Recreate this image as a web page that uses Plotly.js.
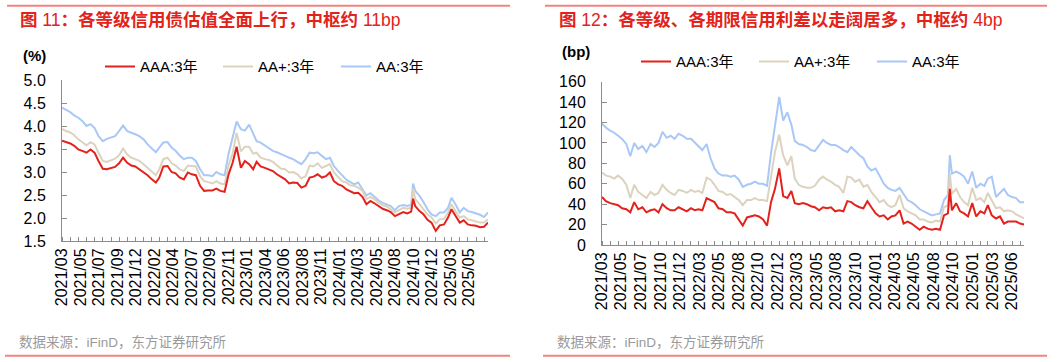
<!DOCTYPE html>
<html>
<head>
<meta charset="utf-8">
<script src="https://cdn.plot.ly/plotly-3.0.1.min.js"></script>
<style>
html,body{margin:0;padding:0;background:#fff;}
#chart{width:1061px;height:362px;}
</style>
</head>
<body>
<div id="chart"></div>
<script>
// ---- data (semi-monthly readings, plus the Oct-2024 spike) ----
const dates = [
 "2021-03-01","2021-03-16","2021-04-01","2021-04-16","2021-05-01","2021-05-16","2021-06-01","2021-06-16","2021-07-01","2021-07-16",
 "2021-08-01","2021-08-16","2021-09-01","2021-09-16","2021-10-01","2021-10-16","2021-11-01","2021-11-16","2021-12-01","2021-12-16",
 "2022-01-01","2022-01-16","2022-02-01","2022-02-16","2022-03-01","2022-03-16","2022-04-01","2022-04-16","2022-05-01","2022-05-16",
 "2022-06-01","2022-06-16","2022-07-01","2022-07-16","2022-08-01","2022-08-16","2022-09-01","2022-09-16","2022-10-01","2022-10-16",
 "2022-11-01","2022-11-16","2022-12-01","2022-12-16","2023-01-01","2023-01-16","2023-02-01","2023-02-16","2023-03-01","2023-03-16",
 "2023-04-01","2023-04-16","2023-05-01","2023-05-16","2023-06-01","2023-06-16","2023-07-01","2023-07-16","2023-08-01","2023-08-16",
 "2023-09-01","2023-09-16","2023-10-01","2023-10-16","2023-11-01","2023-11-16","2023-12-01","2023-12-16","2024-01-01","2024-01-16",
 "2024-02-01","2024-02-16","2024-03-01","2024-03-16","2024-04-01","2024-04-16","2024-05-01","2024-05-16","2024-06-01","2024-06-16",
 "2024-07-01","2024-07-16","2024-08-01","2024-08-16","2024-09-01","2024-09-16","2024-10-01","2024-10-08","2024-10-16","2024-11-01","2024-11-16",
 "2024-12-01","2024-12-16","2025-01-01","2025-01-16","2025-02-01","2025-02-16","2025-03-01","2025-03-16","2025-04-01","2025-04-16",
 "2025-05-01","2025-05-16","2025-06-01","2025-06-16","2025-07-01","2025-07-16"
];

// Left chart: yields (%)
const leftAAA = [
 3.68,3.65,3.62,3.57,3.49,3.46,3.42,3.49,3.42,3.24,
 3.07,3.06,3.09,3.11,3.19,3.31,3.20,3.14,3.12,3.06,
 2.99,2.93,2.84,2.77,2.88,3.12,3.13,3.00,2.97,2.88,
 2.84,2.99,2.95,2.93,2.70,2.59,2.60,2.60,2.64,2.59,
 2.57,2.95,3.20,3.55,3.09,3.24,3.17,3.06,3.22,3.12,
 3.09,3.06,3.02,2.95,2.90,2.84,2.75,2.77,2.76,2.66,
 2.70,2.88,2.90,2.95,2.88,2.91,2.99,2.80,2.73,2.70,
 2.62,2.57,2.54,2.55,2.46,2.30,2.37,2.32,2.26,2.20,
 2.17,2.13,2.04,2.08,2.13,2.10,2.14,2.42,2.26,2.15,2.08,
 1.96,1.90,1.72,1.84,1.86,2.01,2.19,2.04,1.90,1.95,
 1.86,1.84,1.83,1.80,1.81,1.90
];
const leftAAplus = [
 3.94,3.89,3.86,3.80,3.71,3.64,3.58,3.65,3.60,3.42,
 3.24,3.22,3.25,3.29,3.36,3.51,3.38,3.31,3.28,3.24,
 3.17,3.09,3.00,2.93,3.06,3.28,3.31,3.19,3.14,3.06,
 3.02,3.14,3.13,3.12,2.91,2.80,2.78,2.75,2.80,2.75,
 2.73,3.15,3.40,3.85,3.45,3.55,3.55,3.40,3.42,3.31,
 3.28,3.26,3.22,3.14,3.07,3.06,2.99,3.00,2.95,2.86,
 2.91,3.14,3.12,3.19,3.09,3.13,3.17,2.99,2.90,2.80,
 2.77,2.71,2.70,2.66,2.59,2.41,2.46,2.41,2.33,2.28,
 2.25,2.19,2.12,2.17,2.22,2.20,2.22,2.64,2.41,2.30,2.20,
 2.08,2.01,1.88,1.97,1.98,2.12,2.30,2.15,2.01,2.04,
 1.97,1.95,1.93,1.90,1.90,1.97
];
const leftAA = [
 4.40,4.36,4.30,4.23,4.18,4.11,4.00,4.04,3.96,3.78,
 3.67,3.72,3.75,3.78,3.89,4.01,3.89,3.86,3.82,3.78,
 3.71,3.60,3.51,3.43,3.53,3.64,3.65,3.53,3.46,3.36,
 3.28,3.31,3.31,3.24,3.06,2.93,2.93,2.91,3.00,2.95,
 2.93,3.40,3.75,4.10,3.93,3.90,4.03,3.82,3.67,3.64,
 3.58,3.53,3.46,3.43,3.38,3.35,3.31,3.28,3.22,3.17,
 3.28,3.42,3.41,3.43,3.35,3.28,3.31,3.13,3.02,2.93,
 2.83,2.78,2.73,2.77,2.62,2.49,2.54,2.46,2.38,2.33,
 2.30,2.26,2.17,2.26,2.28,2.26,2.29,2.75,2.59,2.48,2.35,
 2.19,2.08,2.04,2.12,2.12,2.22,2.44,2.30,2.12,2.22,
 2.15,2.13,2.10,2.07,2.02,2.12
];

// Right chart: credit spreads (bp)
const rightAAA = [
 47,43,41,40,39,36,35,32,42,35,
 37,32,34,35,32,40,36,34,34,37,
 35,33,36,34,35,34,46,44,42,36,
 35,32,32,31,25,19,27,28,29,28,
 25,19,42,55,75,48,46,53,41,40,
 41,40,38,37,34,37,36,37,33,34,
 33,43,42,39,37,36,43,37,31,28,
 29,25,28,29,34,21,23,21,18,15,
 18,16,15,16,15,29,31,55,34,41,33,
 31,28,41,28,33,31,39,29,26,28,
 21,23,23,23,21,20
];
const rightAAplus = [
 71,68,67,65,68,65,59,46,59,52,
 49,46,52,49,51,59,54,51,49,54,
 53,51,54,52,53,51,66,64,59,53,
 52,49,50,47,44,39,44,44,46,44,
 44,43,65,91,108,88,78,87,65,59,
 57,56,56,58,64,67,64,62,59,57,
 51,67,66,62,64,57,59,52,47,42,
 44,39,37,39,49,36,33,31,29,25,
 25,23,22,24,23,37,39,70,50,55,47,
 42,39,56,44,46,42,51,44,36,37,
 33,34,33,30,28,26
];
const rightAA = [
 119,115,112,110,107,104,99,87,100,94,
 97,91,99,96,100,111,105,107,104,109,
 107,104,104,100,97,93,99,85,75,70,
 68,68,67,68,64,57,59,60,62,60,
 60,58,90,117,145,122,130,118,102,99,
 98,96,93,92,98,103,100,98,98,96,
 93,91,96,92,88,85,77,73,75,68,
 60,56,54,53,56,50,44,42,39,35,
 33,31,29,30,31,44,49,88,70,72,70,
 67,60,72,56,60,58,65,67,47,51,
 55,49,47,46,42,42
];

const seriesNames = ["AAA:3年", "AA+:3年", "AA:3年"];
const leftTickLabels = ["2021/03","2021/05","2021/07","2021/09","2021/12","2022/02","2022/04","2022/07","2022/09","2022/11","2023/01","2023/04","2023/06","2023/08","2023/11","2024/01","2024/03","2024/05","2024/08","2024/10","2024/12","2025/03","2025/05"];
const rightTickLabels = ["2021/03","2021/05","2021/07","2021/10","2021/12","2022/03","2022/05","2022/08","2022/10","2022/12","2023/03","2023/05","2023/08","2023/10","2024/01","2024/03","2024/05","2024/08","2024/10","2025/01","2025/03","2025/06"];

const leftTitle = "<b>图</b> 11<b>：各等级信用债估值全面上行，中枢约</b> 11bp";
const rightTitle = "<b>图</b> 12<b>：各等级、各期限信用利差以走阔居多，中枢约</b> 4bp";
const sourceText = "数据来源：iFinD，东方证券研究所";

// ---- styling ----
const colors = ["#e3221c", "#dcd3bf", "#a9c8f6"];
const FONT = 'Liberation Sans, Arial, "Noto Sans CJK SC", sans-serif';
const W = 1061, H = 362;
const px = v => v / W;
const py = v => 1 - v / H;

const t0 = Date.parse(dates[0] + "T00:00:00Z");
const t1 = Date.parse(dates[dates.length - 1] + "T00:00:00Z");
function evenTicks(n, spanFrac) {
  const step = (t1 - t0) * spanFrac / (n - 1);
  const out = [];
  for (let i = 0; i < n; i++) out.push(new Date(t0 + i * step).toISOString().slice(0, 10));
  return out;
}

const leftSeries = [leftAAA, leftAAplus, leftAA];
const rightSeries = [rightAAA, rightAAplus, rightAA];
const traces = [];
leftSeries.forEach((ys, i) => traces.push({
  x: dates, y: ys, type: "scatter", mode: "lines", name: seriesNames[i],
  line: {color: colors[i], width: 2}, xaxis: "x", yaxis: "y", legend: "legend"
}));
rightSeries.forEach((ys, i) => traces.push({
  x: dates, y: ys, type: "scatter", mode: "lines", name: seriesNames[i],
  line: {color: colors[i], width: 2}, xaxis: "x2", yaxis: "y2", legend: "legend2"
}));
// draw AAA on top
const order = [2, 1, 0, 5, 4, 3];
const data = order.map(i => traces[i]);

function xaxisCfg(domain, labels, spanFrac, anchor) {
  return {
    type: "date", domain: domain, anchor: anchor, automargin: false,
    range: [dates[0], dates[dates.length - 1]],
    tickmode: "array", tickvals: evenTicks(labels.length, spanFrac), ticktext: labels,
    tickangle: -90, ticks: "", showgrid: false, zeroline: false,
    showline: true, linecolor: "#8c8c8c", linewidth: 1,
    tickfont: {family: FONT, size: 16, color: "#000"},
    minor: {ticks: "inside", dtick: "M1", tick0: "2021-03-01", ticklen: 4, tickcolor: "#8c8c8c", tickwidth: 1, showgrid: false},
    fixedrange: true
  };
}
function yaxisCfg(domain, range, dtick, fmt, anchor) {
  return {
    domain: domain, anchor: anchor, automargin: false, range: range, dtick: dtick, tick0: range[0], tickformat: fmt,
    ticks: "inside", ticklen: 5, tickcolor: "#8c8c8c", tickwidth: 1,
    showline: true, linecolor: "#8c8c8c", linewidth: 1,
    showgrid: false, zeroline: false, ticklabelstandoff: 12,
    tickfont: {family: FONT, size: 16, color: "#000"}, fixedrange: true
  };
}

const lineColor = "#f0857f";
const legendCommon = {
  orientation: "h", xanchor: "left", yanchor: "middle",
  entrywidth: 73, entrywidthmode: "pixels", traceorder: "reversed",
  font: {family: FONT, size: 15, color: "#000"}, bgcolor: "rgba(0,0,0,0)"
};
const layout = {
  width: W, height: H,
  margin: {l: 0, r: 0, t: 0, b: 0},
  paper_bgcolor: "#fff", plot_bgcolor: "#fff",
  font: {family: FONT, color: "#000"},
  xaxis: xaxisCfg([px(62), px(488)], leftTickLabels, 0.956, "y"),
  yaxis: yaxisCfg([py(241), py(80)], [1.5, 5.0], 0.5, ".1f", "x"),
  xaxis2: xaxisCfg([px(602), px(1024)], rightTickLabels, 0.9716, "y2"),
  yaxis2: yaxisCfg([py(245), py(81.7)], [0, 160], 20, "d", "x2"),
  showlegend: true,
  legend: Object.assign({x: px(100), y: py(66.7)}, legendCommon),
  legend2: Object.assign({x: px(636), y: py(61.7)}, legendCommon),
  annotations: [
    {text: leftTitle, xref: "paper", yref: "paper", x: px(18), y: py(20), xanchor: "left", yanchor: "middle", showarrow: false,
     font: {family: FONT, size: 17.5, color: "#e2231a"}},
    {text: rightTitle, xref: "paper", yref: "paper", x: px(557), y: py(20), xanchor: "left", yanchor: "middle", showarrow: false,
     font: {family: FONT, size: 17.5, color: "#e2231a"}},
    {text: "<b>(%)</b>", xref: "paper", yref: "paper", x: px(34), y: py(55), xanchor: "center", yanchor: "middle", showarrow: false,
     font: {family: FONT, size: 15, color: "#000"}},
    {text: "<b>(bp)</b>", xref: "paper", yref: "paper", x: px(576), y: py(52), xanchor: "center", yanchor: "middle", showarrow: false,
     font: {family: FONT, size: 15, color: "#000"}},
    {text: sourceText, xref: "paper", yref: "paper", x: px(17), y: py(342.7), xanchor: "left", yanchor: "middle", showarrow: false,
     font: {family: FONT, size: 13.5, color: "#9a9a9a"}},
    {text: sourceText, xref: "paper", yref: "paper", x: px(555), y: py(342.7), xanchor: "left", yanchor: "middle", showarrow: false,
     font: {family: FONT, size: 13.5, color: "#9a9a9a"}}
  ],
  shapes: [
    {type: "line", xref: "paper", yref: "paper", x0: px(7), x1: px(510), y0: py(5.7), y1: py(5.7), line: {color: lineColor, width: 2}},
    {type: "line", xref: "paper", yref: "paper", x0: px(545), x1: px(1047), y0: py(5.7), y1: py(5.7), line: {color: lineColor, width: 2}},
    {type: "line", xref: "paper", yref: "paper", x0: px(5), x1: px(510), y0: py(355.7), y1: py(355.7), line: {color: lineColor, width: 2}},
    {type: "line", xref: "paper", yref: "paper", x0: px(543), x1: px(1047), y0: py(355.7), y1: py(355.7), line: {color: lineColor, width: 2}}
  ]
};

Plotly.newPlot("chart", data, layout, {displayModeBar: false, staticPlot: true});
</script>
</body>
</html>
